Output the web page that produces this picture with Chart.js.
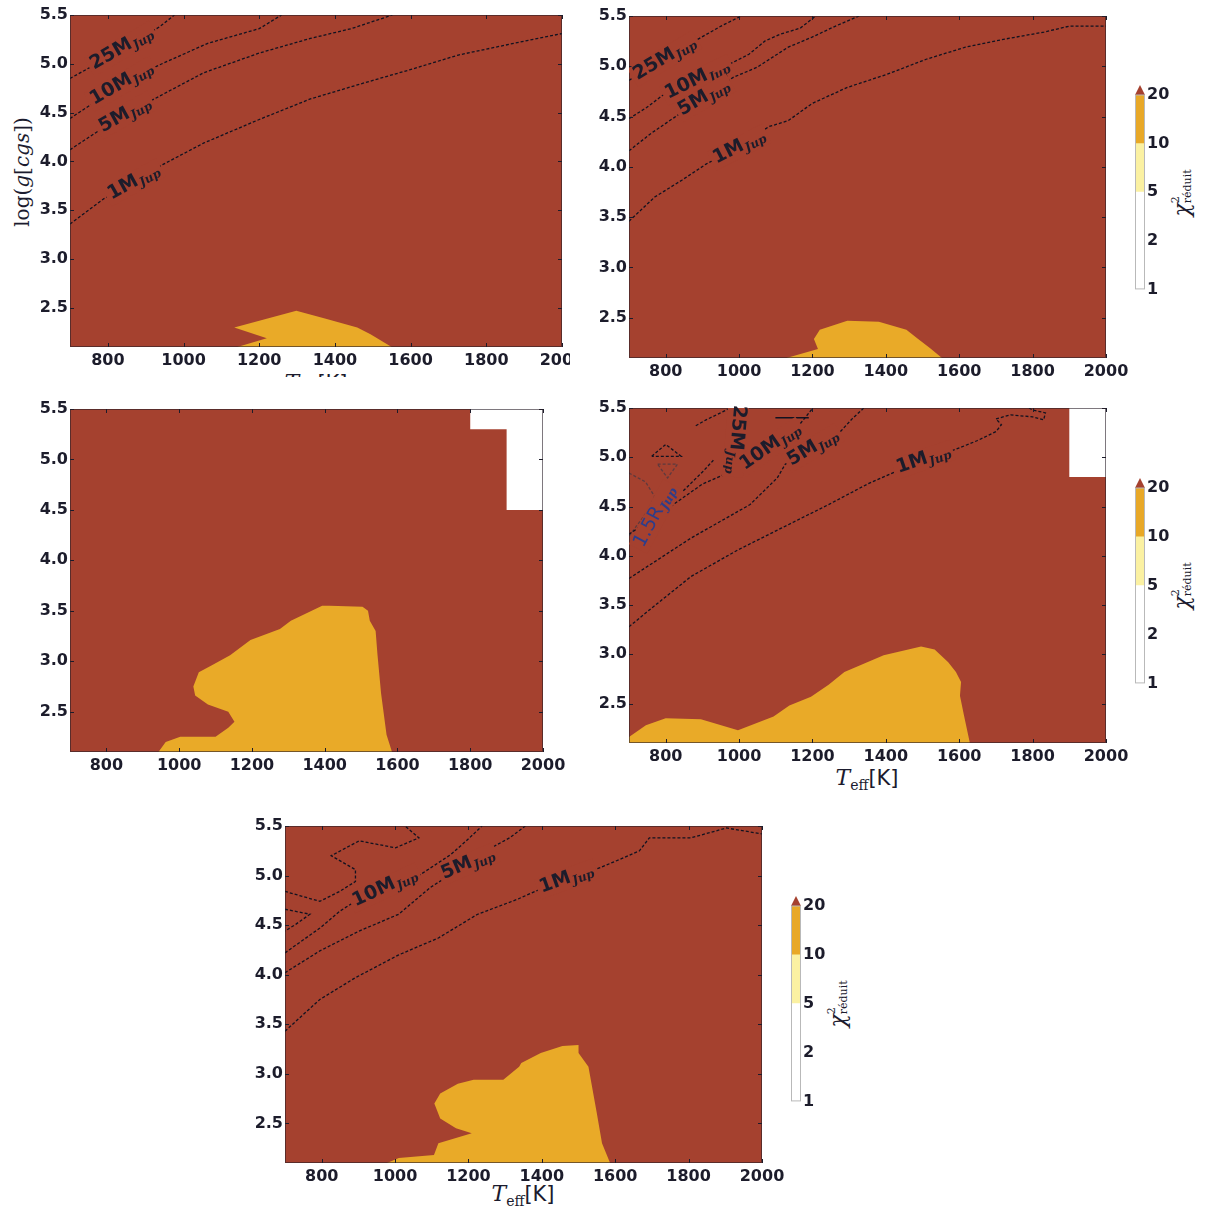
<!DOCTYPE html>
<html>
<head>
<meta charset="utf-8">
<script src="https://cdn.jsdelivr.net/npm/chart.js@4.4.1/dist/chart.umd.min.js"></script>
<style>
  body { margin: 0; background: #fff; width: 1208px; height: 1210px; position: relative; overflow: hidden; }
  .box { position: absolute; overflow: hidden; }
  canvas { position: absolute; }
  .mt { position: absolute; white-space: nowrap; color: #1b1b2e; line-height: 1; }
  .ctr { transform: translate(-50%, -50%); }
  .rot { transform: translate(-50%, -50%) rotate(-90deg); }
  .it { font-family: 'DejaVu Serif', serif; font-style: italic; font-size: 22px; }
  .sb { font-family: 'DejaVu Serif', serif; font-size: 14px; position: relative; top: 5px; }
  .sf { font-family: 'DejaVu Sans', sans-serif; font-size: 21px; }
  .ylab { font-family: 'DejaVu Serif', serif; font-size: 20px; }
  .ylab i { font-style: italic; }
  .chi { font-family: 'DejaVu Serif', serif; font-style: italic; font-size: 22px; vertical-align: middle; }
  .ss { display: inline-flex; flex-direction: column; font-family: 'DejaVu Serif', serif; font-size: 11px; line-height: 12px; vertical-align: middle; }
</style>
</head>
<body>

<!-- axis titles (html so the subscripts look right) -->
<div class="mt rot ylab" style="left:22px;top:172px">log(<i>g</i>[<i>cgs</i>])</div>
<div class="box" style="left:240px;top:362px;width:160px;height:15px">
  <div class="mt ctr" style="left:76px;top:21px"><span class="it">T</span><span class="sb">eff</span><span class="sf">[K]</span></div>
</div>
<div class="mt ctr" style="left:867px;top:778px"><span class="it">T</span><span class="sb">eff</span><span class="sf">[K]</span></div>
<div class="mt ctr" style="left:523px;top:1194px"><span class="it">T</span><span class="sb">eff</span><span class="sf">[K]</span></div>

<div class="mt rot" style="left:1182px;top:193px"><span class="chi">χ</span><span class="ss"><span>2</span><span>réduit</span></span></div>
<div class="mt rot" style="left:1182px;top:586px"><span class="chi">χ</span><span class="ss"><span>2</span><span>réduit</span></span></div>
<div class="mt rot" style="left:838px;top:1004px"><span class="chi">χ</span><span class="ss"><span>2</span><span>réduit</span></span></div>

<script>
// axes
const xTicks = [800, 1000, 1200, 1400, 1600, 1800, 2000];
const yTicks = [2.5, 3.0, 3.5, 4.0, 4.5, 5.0, 5.5];
const xRange = [700, 2000];
const yRange = [2.1, 5.5];
const cbarTicks = [1, 2, 5, 10, 20];
const cbarEdges = [1, 5, 10, 20];
const cbarColors = ['#ffffff', '#fbf1a2', '#e8a827'];

// panel 1 (top left)
const p1Gold = [[1142, 2.1], [1220, 2.19], [1134, 2.30], [1298, 2.47], [1376, 2.39], [1459, 2.30], [1494, 2.23], [1550, 2.1]];
const p1M25 = [[700, 4.85], [770, 5.00], [836, 5.16], [907, 5.31], [937, 5.38], [976, 5.5]];
const p1M10 = [[700, 4.44], [770, 4.62], [836, 4.80], [937, 4.99], [1064, 5.21], [1200, 5.36], [1259, 5.5]];
const p1M5 = [[700, 4.12], [770, 4.30], [845, 4.48], [937, 4.67], [1054, 4.91], [1200, 5.11], [1335, 5.26], [1443, 5.36], [1552, 5.5]];
const p1M1 = [[700, 3.36], [790, 3.62], [868, 3.79], [946, 3.97], [1054, 4.19], [1200, 4.43], [1335, 4.64], [1482, 4.81], [1599, 4.94], [1726, 5.09], [1873, 5.21], [2000, 5.31]];

// panel 2 (top right)
const p2Gold = [[1129, 2.1], [1215, 2.19], [1204, 2.29], [1220, 2.38], [1295, 2.47], [1381, 2.46], [1456, 2.38], [1488, 2.29], [1520, 2.20], [1553, 2.1]];
const p2M25 = [[700, 4.86], [797, 5.08], [898, 5.29], [951, 5.40], [1006, 5.5]];
const p2M10 = [[700, 4.48], [748, 4.59], [791, 4.71], [886, 4.87], [984, 5.04], [1027, 5.12], [1070, 5.25], [1113, 5.32], [1167, 5.38], [1209, 5.5]];
const p2M5 = [[700, 4.16], [759, 4.33], [823, 4.49], [904, 4.69], [984, 4.89], [1049, 4.99], [1070, 5.04], [1134, 5.19], [1199, 5.29], [1263, 5.40], [1327, 5.5]];
const p2M1 = [[700, 3.46], [770, 3.70], [845, 3.87], [911, 4.03], [1000, 4.20], [1081, 4.40], [1134, 4.46], [1199, 4.63], [1295, 4.79], [1403, 4.92], [1510, 5.07], [1617, 5.19], [1724, 5.27], [1831, 5.34], [1901, 5.40], [2000, 5.40]];

// panel 3 (middle left)
const p3Gold = [[943, 2.1], [963, 2.20], [1003, 2.25], [1100, 2.25], [1135, 2.34], [1152, 2.40], [1135, 2.50], [1079, 2.57], [1044, 2.66], [1039, 2.75], [1054, 2.89], [1090, 2.96], [1140, 3.06], [1196, 3.21], [1277, 3.32], [1307, 3.40], [1393, 3.55], [1413, 3.55], [1504, 3.54], [1519, 3.50], [1524, 3.40], [1540, 3.30], [1545, 3.07], [1555, 2.68], [1570, 2.27], [1585, 2.1]];
const p3Blank = [[1800, 5.5], [2000, 5.5], [2000, 4.5], [1900, 4.5], [1900, 5.3], [1800, 5.3]];

// panel 4 (middle right)
const p4Gold = [[700, 2.1], [700, 2.16], [746, 2.28], [800, 2.35], [896, 2.34], [997, 2.23], [1094, 2.37], [1137, 2.48], [1196, 2.57], [1244, 2.69], [1287, 2.82], [1394, 2.99], [1496, 3.08], [1533, 3.05], [1570, 2.92], [1591, 2.82], [1605, 2.72], [1602, 2.58], [1613, 2.38], [1629, 2.1]];
const p4Blank = [[1900, 5.5], [2000, 5.5], [2000, 4.8], [1900, 4.8]];
const p4M1 = [[700, 3.28], [762, 3.47], [869, 3.79], [997, 4.06], [1115, 4.28], [1244, 4.52], [1351, 4.73], [1430, 4.86], [1502, 4.98], [1590, 5.08], [1650, 5.17], [1700, 5.26], [1715, 5.33], [1700, 5.39], [1740, 5.43], [1800, 5.41], [1830, 5.38], [1835, 5.45], [1800, 5.48], [1790, 5.5]];
const p4M5 = [[700, 3.77], [869, 4.18], [1030, 4.52], [1104, 4.79], [1126, 4.93], [1201, 5.10], [1276, 5.26], [1308, 5.39], [1340, 5.5]];
const p4M10 = [[700, 4.22], [794, 4.45], [901, 4.73], [1013, 4.91], [1085, 5.11], [1158, 5.30], [1201, 5.5]];
const p4M25a = [[848, 4.66], [900, 4.85], [930, 4.97]];
const p4M25b = [[882, 5.32], [910, 5.38], [955, 5.46], [975, 5.5]];
const p4Tri = [[762, 5.01], [800, 5.13], [842, 5.01], [762, 5.01]];
const p4R1 = [[778, 4.93], [832, 4.93], [805, 4.79], [778, 4.93]];
const p4R2 = [[700, 4.84], [745, 4.75], [770, 4.60], [750, 4.45], [720, 4.30], [700, 4.20]];
const p4Bar = [[1099, 5.40], [1190, 5.40]];

// panel 5 (bottom)
const p5Gold = [[978, 2.1], [1010, 2.15], [1106, 2.18], [1118, 2.30], [1209, 2.40], [1166, 2.45], [1123, 2.55], [1107, 2.70], [1123, 2.80], [1171, 2.90], [1214, 2.94], [1295, 2.94], [1338, 3.07], [1344, 3.11], [1397, 3.21], [1456, 3.28], [1500, 3.29], [1500, 3.21], [1527, 3.07], [1549, 2.62], [1564, 2.30], [1586, 2.1]];
const p5M10 = [[700, 4.22], [795, 4.47], [849, 4.64], [900, 4.76], [972, 4.88], [1065, 5.00], [1151, 5.21], [1194, 5.35], [1237, 5.5]];
const p5M5 = [[700, 4.02], [795, 4.24], [902, 4.44], [1010, 4.61], [1096, 4.88], [1198, 5.12], [1247, 5.25], [1312, 5.38], [1355, 5.5]];
const p5M1 = [[700, 3.43], [795, 3.75], [892, 3.97], [1010, 4.20], [1118, 4.37], [1225, 4.61], [1333, 4.76], [1400, 4.87], [1467, 4.97], [1559, 5.08], [1623, 5.18], [1666, 5.25], [1693, 5.38], [1806, 5.38], [1903, 5.48], [2000, 5.42]];
const p5Loop = [[700, 4.84], [795, 4.74], [849, 4.84], [892, 4.94], [892, 5.06], [826, 5.20], [902, 5.35], [1001, 5.28], [1065, 5.38], [1027, 5.5]];
const p5Tri = [[700, 4.66], [768, 4.61], [730, 4.51], [700, 4.44]];

const BROWN = '#a5412f';
const GOLD = '#e9aa28';
const INK = '#1c1c2b';
const BLUE = '#2c3d8c';

Chart.defaults.font.family = "'DejaVu Sans', sans-serif";

const toXY = pts => pts.map(([x, y]) => ({ x, y }));

// brown background, inward ticks and inline contour labels
const decor = {
  id: 'decor',
  beforeDatasetsDraw(chart, args, opts) {
    const { ctx, chartArea: a } = chart;
    ctx.save();
    ctx.fillStyle = BROWN;
    ctx.fillRect(a.left, a.top, a.width, a.height);
    ctx.restore();
  },
  afterDatasetsDraw(chart, args, opts) {
    const { ctx, chartArea: a, scales: { x, y } } = chart;
    ctx.save();
    ctx.strokeStyle = INK;
    ctx.lineWidth = 1;
    ctx.beginPath();
    xTicks.forEach(v => {
      const px = Math.round(x.getPixelForValue(v)) + 0.5;
      ctx.moveTo(px, a.bottom); ctx.lineTo(px, a.bottom - 4);
      ctx.moveTo(px, a.top); ctx.lineTo(px, a.top + 4);
    });
    yTicks.forEach(v => {
      const py = Math.round(y.getPixelForValue(v)) + 0.5;
      ctx.moveTo(a.left, py); ctx.lineTo(a.left + 4, py);
      ctx.moveTo(a.right, py); ctx.lineTo(a.right - 4, py);
    });
    ctx.stroke();
    ctx.strokeStyle = 'rgba(40,30,40,0.6)';
    ctx.strokeRect(a.left + 0.5, a.top + 0.5, a.width - 1, a.height - 1);
    ctx.restore();

    (opts.labels || []).forEach(l => {
      const px = x.getPixelForValue(l.x), py = y.getPixelForValue(l.y);
      const mainFont = (l.weight || 'bold') + " 19px 'DejaVu Sans'";
      const subFont = 'italic bold 12px "DejaVu Serif"';
      ctx.save();
      ctx.font = mainFont;
      const w1 = ctx.measureText(l.main).width;
      ctx.font = subFont;
      const w2 = ctx.measureText(l.sub).width;
      const w = w1 + w2 + 1, x0 = -w / 2;
      // hide the dashed line under the label
      ctx.save();
      ctx.beginPath();
      ctx.rect(a.left, a.top, a.width, a.height);
      ctx.clip();
      ctx.translate(px, py);
      ctx.rotate(l.angle * Math.PI / 180);
      ctx.fillStyle = BROWN;
      ctx.fillRect(x0 - 3, -10, w + 6, 21);
      ctx.restore();
      ctx.translate(px, py);
      ctx.rotate(l.angle * Math.PI / 180);
      ctx.fillStyle = l.color || INK;
      ctx.textBaseline = 'middle';
      ctx.textAlign = 'left';
      ctx.font = mainFont;
      ctx.fillText(l.main, x0, 0);
      ctx.font = subFont;
      ctx.fillText(l.sub, x0 + w1 + 1, 5);
      ctx.restore();
    });
  }
};

const tickFont = { family: "'DejaVu Sans', sans-serif", weight: 'bold', size: 16 };

function makePanel(area, fills, lines, labels, clip) {
  const YW = 45, PR = 30, PT = 12, XH = 28;
  const { L, R, T, B } = area;
  const c = clip || { l: L - YW, t: T - PT, r: R + PR, b: B + XH };
  const wrap = document.createElement('div');
  wrap.className = 'box';
  wrap.style.left = c.l + 'px';
  wrap.style.top = c.t + 'px';
  wrap.style.width = (c.r - c.l) + 'px';
  wrap.style.height = (c.b - c.t) + 'px';
  const cv = document.createElement('canvas');
  const cw = (R - L) + YW + PR, ch = (B - T) + PT + XH;
  cv.width = cw; cv.height = ch;
  cv.style.width = cw + 'px'; cv.style.height = ch + 'px';
  cv.style.left = (L - YW - c.l) + 'px';
  cv.style.top = (T - PT - c.t) + 'px';
  wrap.appendChild(cv);
  document.body.appendChild(wrap);

  const datasets = [];
  fills.forEach(f => datasets.push({
    data: toXY(f.pts), showLine: true, fill: 'shape',
    backgroundColor: f.color, borderColor: f.color, borderWidth: 0, pointRadius: 0, tension: 0
  }));
  lines.forEach(l => datasets.push({
    data: toXY(l.pts), showLine: true, fill: false,
    borderColor: l.color || '#121220', borderWidth: l.width || 1.3, borderDash: l.solid ? [] : [3, 2],
    pointRadius: 0, tension: 0
  }));

  new Chart(cv, {
    type: 'scatter',
    data: { datasets },
    options: {
      responsive: false,
      animation: false,
      events: [],
      layout: { padding: { left: 0, right: PR, top: PT, bottom: 0 } },
      plugins: { legend: { display: false }, tooltip: { enabled: false }, decor: { labels } },
      scales: {
        x: {
          type: 'linear', min: xRange[0], max: xRange[1],
          afterBuildTicks: s => { s.ticks = xTicks.map(v => ({ value: v })); },
          afterFit: s => { s.height = XH; },
          grid: { display: false, drawTicks: false },
          border: { display: false },
          ticks: { font: tickFont, color: INK, padding: 4, maxRotation: 0, autoSkip: false, callback: v => String(v) }
        },
        y: {
          type: 'linear', min: yRange[0], max: yRange[1],
          afterBuildTicks: s => { s.ticks = yTicks.map(v => ({ value: v })); },
          afterFit: s => { s.width = YW; },
          grid: { display: false, drawTicks: false },
          border: { display: false },
          ticks: { font: tickFont, color: INK, padding: 2, autoSkip: false, callback: v => v.toFixed(1) }
        }
      }
    },
    plugins: [decor]
  });
}

// colour bar: stacked bar on an index axis labelled 1,2,5,10,20
const cbarDecor = {
  id: 'cbarDecor',
  afterDatasetsDraw(chart) {
    const { ctx, chartArea: a } = chart;
    ctx.save();
    ctx.fillStyle = BROWN;
    ctx.beginPath();
    ctx.moveTo(a.left, a.top);
    ctx.lineTo(a.right, a.top);
    ctx.lineTo((a.left + a.right) / 2, a.top - 10);
    ctx.closePath();
    ctx.fill();
    ctx.strokeStyle = '#b9b9b9';
    ctx.lineWidth = 1;
    ctx.strokeRect(a.left + 0.5, a.top, a.width - 1, a.height - 0.5);
    ctx.restore();
  }
};

function makeCbar(L, R, T, B) {
  const PT = 16, PB = 10, YW = 30;
  const cv = document.createElement('canvas');
  const cw = (R - L) + YW, ch = (B - T) + PT + PB;
  cv.width = cw; cv.height = ch;
  cv.style.width = cw + 'px'; cv.style.height = ch + 'px';
  cv.style.left = L + 'px'; cv.style.top = (T - PT) + 'px';
  document.body.appendChild(cv);
  const idx = v => cbarTicks.indexOf(v);
  const datasets = cbarColors.map((col, k) => ({
    data: [idx(cbarEdges[k + 1]) - idx(cbarEdges[k])],
    backgroundColor: col, borderWidth: 0, barPercentage: 1, categoryPercentage: 1
  }));
  new Chart(cv, {
    type: 'bar',
    data: { labels: [''], datasets },
    options: {
      responsive: false,
      animation: false,
      events: [],
      layout: { padding: { left: 0, right: 0, top: PT, bottom: PB } },
      plugins: { legend: { display: false }, tooltip: { enabled: false } },
      scales: {
        x: { display: false, stacked: true },
        y: {
          stacked: true, position: 'right', min: 0, max: cbarTicks.length - 1,
          afterBuildTicks: s => { s.ticks = cbarTicks.map((v, i) => ({ value: i })); },
          afterFit: s => { s.width = YW; },
          grid: { display: false, drawTicks: false },
          border: { display: false },
          ticks: { font: { family: "'DejaVu Sans', sans-serif", weight: 'bold', size: 16 }, color: INK, padding: 2, callback: (v, i) => String(cbarTicks[i]) }
        }
      }
    },
    plugins: [cbarDecor]
  });
}

makePanel({ L: 70, R: 562, T: 15, B: 347 },
  [{ pts: p1Gold, color: GOLD }],
  [{ pts: p1M25 }, { pts: p1M10 }, { pts: p1M5 }, { pts: p1M1 }],
  [
    { x: 836, y: 5.16, angle: -30, main: '25M', sub: 'Jup' },
    { x: 836, y: 4.80, angle: -30, main: '10M', sub: 'Jup' },
    { x: 845, y: 4.48, angle: -29, main: '5M', sub: 'Jup' },
    { x: 868, y: 3.79, angle: -29, main: '1M', sub: 'Jup' }
  ],
  { l: 0, t: 0, r: 570, b: 377 });

makePanel({ L: 629, R: 1106, T: 16, B: 358 },
  [{ pts: p2Gold, color: GOLD }],
  [{ pts: p2M25 }, { pts: p2M10 }, { pts: p2M5 }, { pts: p2M1 }],
  [
    { x: 797, y: 5.08, angle: -31, main: '25M', sub: 'Jup' },
    { x: 886, y: 4.87, angle: -26, main: '10M', sub: 'Jup' },
    { x: 904, y: 4.69, angle: -30, main: '5M', sub: 'Jup' },
    { x: 1000, y: 4.20, angle: -27, main: '1M', sub: 'Jup' }
  ]);

makePanel({ L: 70, R: 543, T: 409, B: 752 },
  [{ pts: p3Gold, color: GOLD }, { pts: p3Blank, color: '#ffffff' }],
  [], []);

makePanel({ L: 629, R: 1106, T: 408, B: 743 },
  [{ pts: p4Gold, color: GOLD }, { pts: p4Blank, color: '#ffffff' }],
  [
    { pts: p4M1 }, { pts: p4M5 }, { pts: p4M10 }, { pts: p4M25a }, { pts: p4M25b },
    { pts: p4Tri }, { pts: p4R1, color: '#5e3a3e' }, { pts: p4R2, color: '#5e3a3e' },
    { pts: p4Bar, solid: true, width: 1.5 }
  ],
  [
    { x: 992, y: 5.18, angle: 95, main: '25M', sub: 'Jup' },
    { x: 1085, y: 5.11, angle: -35, main: '10M', sub: 'Jup' },
    { x: 1201, y: 5.10, angle: -31, main: '5M', sub: 'Jup' },
    { x: 1502, y: 4.98, angle: -19, main: '1M', sub: 'Jup' },
    { x: 770, y: 4.40, angle: -62, main: '1.5R', sub: 'Jup', color: BLUE, weight: 'normal' }
  ]);

makePanel({ L: 285, R: 762, T: 826, B: 1163 },
  [{ pts: p5Gold, color: GOLD }],
  [{ pts: p5M10 }, { pts: p5M5 }, { pts: p5M1 }, { pts: p5Loop }, { pts: p5Tri }],
  [
    { x: 972, y: 4.88, angle: -25, main: '10M', sub: 'Jup' },
    { x: 1198, y: 5.12, angle: -23, main: '5M', sub: 'Jup' },
    { x: 1467, y: 4.97, angle: -20, main: '1M', sub: 'Jup' }
  ]);

makeCbar(1135, 1145, 95, 291);
makeCbar(1135, 1145, 488, 685);
makeCbar(791, 801, 906, 1103);
</script>
</body>
</html>
